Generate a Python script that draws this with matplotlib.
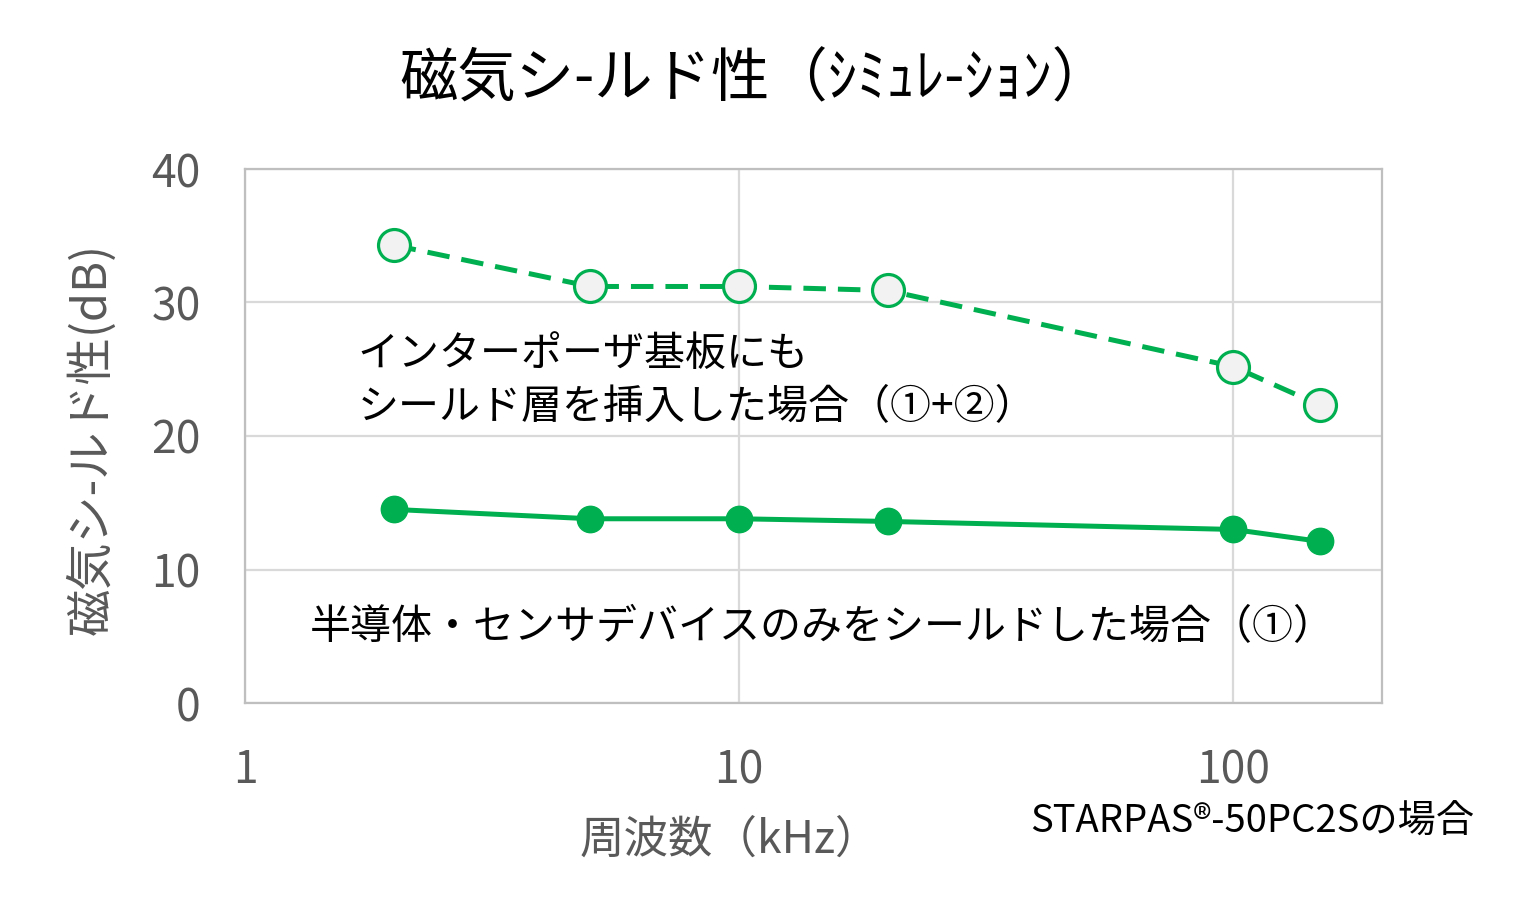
import matplotlib
matplotlib.use('Agg')
import matplotlib.pyplot as plt
import matplotlib.ticker as ticker

plt.rcParams['font.family'] = ['Noto Sans CJK JP', 'DejaVu Sans']

# data
freq_khz = [2, 5, 10, 20, 100, 150]
shield_both = [34.3, 31.2, 31.2, 30.9, 25.2, 22.3]   # ①+②
shield_chip = [14.5, 13.8, 13.8, 13.6, 13.0, 12.1]   # ①

x_ticks = [1, 10, 100]
y_ticks = [0, 10, 20, 30, 40]

green = '#00B050'
gray_txt = '#595959'

fig = plt.figure(figsize=(15.13, 9.21), dpi=100)
ax = fig.add_axes([245 / 1513, 1 - 703 / 921, (1382 - 245) / 1513, (703 - 169) / 921])

ax.plot(freq_khz, shield_both, color=green, linewidth=3.6, linestyle=(0, (4.5, 2.4)),
        marker='o', markersize=23, markerfacecolor='#F2F2F2', markeredgecolor=green,
        markeredgewidth=2.3, zorder=3)
ax.plot(freq_khz, shield_chip, color=green, linewidth=3.6,
        marker='o', markersize=19, markerfacecolor=green, markeredgecolor=green, zorder=3)

ax.set_xscale('log')
ax.set_xlim(1, 200)
ax.set_ylim(0, 40)
ax.xaxis.set_major_locator(ticker.FixedLocator(x_ticks))
ax.xaxis.set_minor_locator(ticker.NullLocator())
ax.xaxis.set_major_formatter(ticker.FixedFormatter([str(v) for v in x_ticks]))
ax.set_yticks(y_ticks)

ax.grid(True, color='#D9D9D9', linewidth=1.6)
ax.set_axisbelow(True)
for s in ax.spines.values():
    s.set_color('#BFBFBF')
    s.set_linewidth(1.6)
ax.tick_params(length=0, labelsize=32, labelcolor=gray_txt)
ax.tick_params(axis='y', pad=32)
ax.tick_params(axis='x', pad=32)

fig.text(730 / 1513, 1 - 840 / 921, '周波数（kHz）', fontsize=32, color=gray_txt,
         ha='center', va='center')
fig.text(92 / 1513, 1 - 439 / 921, '磁気シ-ルド性(dB)', fontsize=34, color=gray_txt,
         ha='center', va='center', rotation=90)

fig.text(755 / 1513, 1 - 80 / 921, '磁気シ-ルド性（ｼﾐｭﾚ-ｼｮﾝ）', fontsize=42,
         ha='center', va='center')

ax.text(0.099, 0.692, 'インターポーザ基板にも\nシールド層を挿入した場合（①+②）',
        transform=ax.transAxes, fontsize=29.5, va='top', ha='left', linespacing=1.4)
ax.text(0.057, 0.142, '半導体・センサデバイスのみをシールドした場合（①）',
        transform=ax.transAxes, fontsize=29.5, va='center', ha='left')

fig.text(1030 / 1513, 1 - 822 / 921, 'STARPAS®-50PC2Sの場合', fontsize=27.5,
         ha='left', va='center')

fig.savefig('out.png', dpi=100)
